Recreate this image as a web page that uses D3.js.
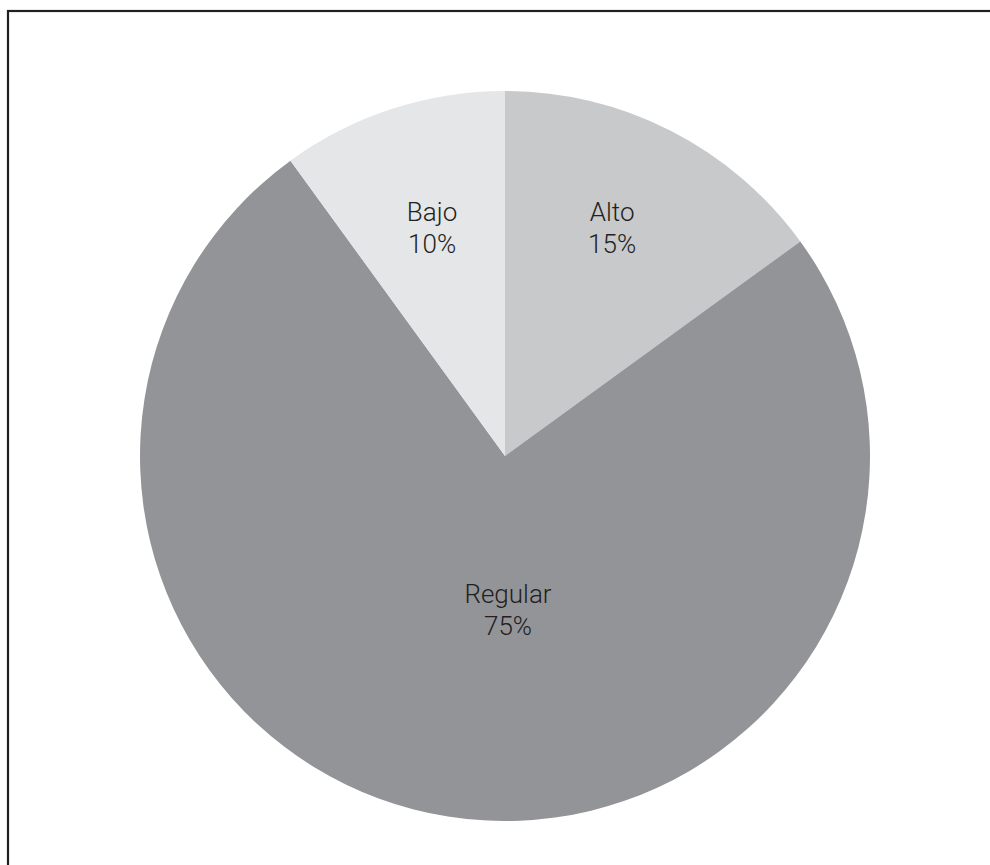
<!DOCTYPE html>
<html>
<head>
<meta charset="utf-8">
<script src="https://cdn.jsdelivr.net/npm/d3@7"></script>
<style>
  html, body { margin: 0; padding: 0; background: #fff; }
  svg { display: block; }
</style>
</head>
<body>
<svg id="chart" width="990" height="865"></svg>
<script>
const categories = ["Alto", "Regular", "Bajo"];
const values = [15, 75, 10];
const labels = ["15%", "75%", "10%"];
const colors = ["#c8c9cb", "#939497", "#e5e6e8"];

const W = 990, H = 865;
const cx = 505, cy = 456, R = 365;
const svg = d3.select("#chart");

// frame (top and left edges visible; continues past right/bottom)
svg.append("rect")
  .attr("x", 8).attr("y", 11)
  .attr("width", W + 20).attr("height", H + 20)
  .attr("fill", "none").attr("stroke", "#231f20").attr("stroke-width", 2.2);

const data = categories.map((c, i) => ({ cat: c, value: values[i], label: labels[i], color: colors[i] }));
const pie = d3.pie().sort(null).value(d => d.value);
const arcs = pie(data);
const arc = d3.arc().innerRadius(0).outerRadius(R);

const g = svg.append("g").attr("transform", `translate(${cx},${cy})`);
g.selectAll("path.slice").data(arcs).enter().append("path")
  .attr("class", "slice")
  .attr("d", arc)
  .attr("fill", d => d.data.color);

// label placement: small slices share a row near the top, the large one sits below centre
function labelPos(d) {
  const mid = (d.startAngle + d.endAngle) / 2;
  if (d.data.value < 50) {
    return [Math.sin(mid) * 236, -228];
  }
  return [3, 154];
}

const lab = g.selectAll("text.lab").data(arcs).enter().append("text")
  .attr("class", "lab")
  .attr("text-anchor", "middle")
  .attr("font-family", "Roboto, 'Liberation Sans', sans-serif")
  .attr("font-weight", 300)
  .attr("font-size", 26)
  .attr("fill", "#231f20")
  .attr("transform", d => { const p = labelPos(d); return `translate(${p[0]},${p[1]})`; });
lab.append("tspan").attr("x", 0).attr("y", -7).text(d => d.data.cat);
lab.append("tspan").attr("x", 0).attr("y", 25).text(d => d.data.label);
</script>
</body>
</html>
